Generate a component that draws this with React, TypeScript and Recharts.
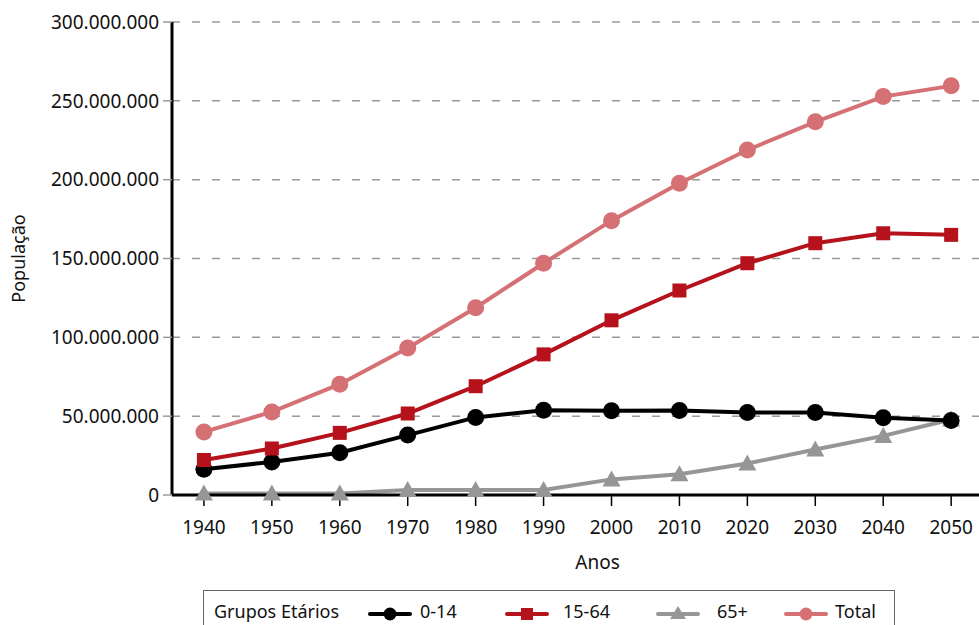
import React from "react";
import { LineChart, Line, XAxis, YAxis, CartesianGrid } from "recharts";

const anos = [1940, 1950, 1960, 1970, 1980, 1990, 2000, 2010, 2020, 2030, 2040, 2050];
const grupo0a14 = [16300000, 21000000, 26800000, 38000000, 49200000, 53800000, 53400000, 53600000, 52300000, 52300000, 49000000, 47300000];
const grupo15a64 = [22200000, 29500000, 39400000, 51700000, 69000000, 89200000, 110800000, 129700000, 147000000, 159700000, 166000000, 165000000];
const grupo65mais = [1000000, 1000000, 1000000, 3200000, 3200000, 3200000, 9900000, 13100000, 20000000, 28900000, 37500000, 47900000];
const total = [40000000, 52700000, 70300000, 93200000, 118800000, 147000000, 174000000, 197700000, 218800000, 236700000, 252700000, 259500000];
const yTicks = [0, 50000000, 100000000, 150000000, 200000000, 250000000, 300000000];

const data = anos.map((ano, i) => ({
  ano,
  g0: grupo0a14[i],
  g15: grupo15a64[i],
  g65: grupo65mais[i],
  total: total[i],
}));

const COR_0_14 = "#000000";
const COR_15_64 = "#B5121B";
const COR_65 = "#969696";
const COR_TOTAL = "#D57075";
const FONTE = "'Noto Sans', sans-serif";

// "50.000.000" style labels
const fmt = (v: number) => String(Math.round(v)).replace(/\B(?=(\d{3})+(?!\d))/g, ".");

const Circulo = (cor: string) => (p: any) =>
  p.cx == null ? <g key={p.key} /> : <circle key={p.key} cx={p.cx} cy={p.cy} r={8.5} fill={cor} />;
const Quadrado = (cor: string) => (p: any) =>
  p.cx == null ? <g key={p.key} /> : <rect key={p.key} x={p.cx - 7} y={p.cy - 7} width={14} height={14} fill={cor} />;
const Triangulo = (cor: string) => (p: any) =>
  p.cx == null ? (
    <g key={p.key} />
  ) : (
    <path key={p.key} d={`M${p.cx},${p.cy - 9} L${p.cx + 9},${p.cy + 7} L${p.cx - 9},${p.cy + 7} Z`} fill={cor} />
  );

function Simbolo({ cor, forma, x }: { cor: string; forma: string; x: number }) {
  return (
    <svg width={44} height={20} style={{ position: "absolute", left: x, top: 13 }}>
      <line x1={2} y1={10} x2={42} y2={10} stroke={cor} strokeWidth={4} strokeLinecap="round" />
      {forma === "circle" && <circle cx={22} cy={10} r={6.5} fill={cor} />}
      {forma === "square" && <rect x={16} y={4} width={12} height={12} fill={cor} />}
      {forma === "triangle" && <path d="M22,2 L30,15 L14,15 Z" fill={cor} />}
    </svg>
  );
}

const rotulo = (x: number): React.CSSProperties => ({ position: "absolute", left: x, top: 7, lineHeight: "26px" });

export default function App() {
  return (
    <div style={{ position: "absolute", left: 0, top: 0, width: 979, height: 625, background: "#fff", overflow: "hidden" }}>
      <LineChart width={979} height={625} data={data} margin={{ top: 22, right: 0, left: 0, bottom: 0 }}>
        <CartesianGrid horizontal vertical={false} stroke="#9a9a9a" strokeDasharray="8 12" strokeWidth={1.5} />
        <XAxis
          dataKey="ano"
          type="number"
          domain={[1935.3, 2054.1]}
          ticks={anos}
          allowDataOverflow
          height={130}
          stroke="#000"
          strokeWidth={3}
          tickSize={11}
          tickMargin={15}
          tickLine={{ stroke: "#000", strokeWidth: 1.5 }}
          tick={{ fill: "#111", fontSize: 19, fontFamily: FONTE }}
          label={({ viewBox }: any) => (
            <text x={viewBox.x + viewBox.width / 2 + 22} y={569} textAnchor="middle" fontSize={19} fontFamily={FONTE} fill="#111">
              Anos
            </text>
          )}
        />
        <YAxis
          domain={[0, 300000000]}
          ticks={yTicks}
          width={172}
          stroke="#000"
          strokeWidth={3}
          tickSize={9}
          tickMargin={4}
          tickLine={{ stroke: "#9a9a9a", strokeWidth: 1.5 }}
          tickFormatter={fmt}
          tick={{ fill: "#111", fontSize: 19, fontFamily: FONTE }}
          label={({ viewBox }: any) => (
            <text
              x={25}
              y={viewBox.y + viewBox.height / 2}
              transform={`rotate(-90 25 ${viewBox.y + viewBox.height / 2})`}
              textAnchor="middle"
              fontSize={18}
              fontFamily={FONTE}
              fill="#111"
            >
              População
            </text>
          )}
        />
        <Line dataKey="g65" stroke={COR_65} strokeWidth={4} dot={Triangulo(COR_65)} isAnimationActive={false} />
        <Line dataKey="g0" stroke={COR_0_14} strokeWidth={4} dot={Circulo(COR_0_14)} isAnimationActive={false} />
        <Line dataKey="g15" stroke={COR_15_64} strokeWidth={4} dot={Quadrado(COR_15_64)} isAnimationActive={false} />
        <Line dataKey="total" stroke={COR_TOTAL} strokeWidth={4} dot={Circulo(COR_TOTAL)} isAnimationActive={false} />
      </LineChart>
      <div
        style={{
          position: "absolute",
          left: 203,
          top: 590,
          width: 692,
          height: 50,
          border: "1.5px solid #666",
          boxSizing: "border-box",
          fontFamily: FONTE,
          fontSize: 18,
          color: "#111",
        }}
      >
        <span style={rotulo(10)}>Grupos Etários</span>
        <Simbolo cor={COR_0_14} forma="circle" x={164} />
        <span style={rotulo(216)}>0-14</span>
        <Simbolo cor={COR_15_64} forma="square" x={301} />
        <span style={rotulo(359)}>15-64</span>
        <Simbolo cor={COR_65} forma="triangle" x={452} />
        <span style={rotulo(513)}>65+</span>
        <Simbolo cor={COR_TOTAL} forma="circle" x={580} />
        <span style={rotulo(631)}>Total</span>
      </div>
    </div>
  );
}
